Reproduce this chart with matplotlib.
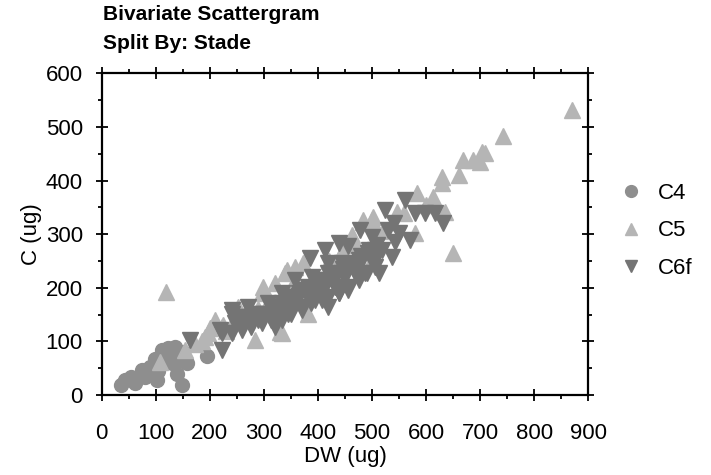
import matplotlib
matplotlib.use("Agg")
import matplotlib.pyplot as plt
from matplotlib.ticker import MultipleLocator

plt.rcParams["font.family"] = ["Liberation Sans", "DejaVu Sans"]

# values (DW, C in ug)
c4_dw = [36, 43, 55, 62, 74, 80, 86, 102, 99, 111, 123, 136, 139, 149, 157, 145, 130, 194, 118, 90, 105, 128, 150]
c4_c  = [19, 28, 34, 23, 47, 34, 40, 28, 68, 84, 87, 90, 40, 19, 59, 65, 59, 72, 75, 52, 45, 70, 80]

c5_dw = [869, 743, 703, 709, 700, 687, 669, 660, 629, 629, 613, 583, 635, 580, 546, 650, 499, 484,
         462, 444, 358, 339, 321, 296, 253, 222, 197, 191, 173, 154, 108, 119, 284, 333, 382, 499,
         265, 310, 350, 400, 420, 470, 520, 560, 245, 230, 290, 375, 440, 600,
         342, 298, 373, 483, 502, 330, 185, 200, 210, 225]
c5_c  = [532, 483, 454, 451, 435, 438, 438, 410, 407, 395, 370, 376, 342, 302, 342, 264, 326, 323,
         298, 267, 239, 227, 208, 190, 165, 127, 115, 109, 96, 84, 62, 193, 103, 115, 152, 252,
         150, 175, 200, 215, 250, 280, 305, 340, 140, 120, 160, 195, 260, 355,
         233, 201, 246, 326, 332, 118, 100, 125, 140, 130]

c6_dw = [561, 524, 580, 598, 617, 632, 570, 536, 512, 478, 499, 530, 549, 438, 413, 385, 419, 456,
         475, 490, 456, 419, 382, 358, 333, 308, 271, 241, 222, 222, 163, 241, 278, 321, 345, 370,
         395, 432, 469, 505, 518, 543, 296, 358, 389, 419, 444, 333, 382, 407, 438, 450, 370, 327,
         278, 300, 315, 340, 352, 365, 378, 392, 405, 412, 425, 447, 462, 480, 495, 510, 260, 255,
         290, 350, 400, 430, 465, 500, 540,
         247, 265, 284, 302, 314, 333, 351, 364, 376, 395, 407, 419, 432, 444, 456, 469, 481, 493, 506,
         259, 277, 296, 314, 333, 351, 370, 388, 407, 419, 438, 456, 475, 487, 506, 241, 219]
c6_c  = [364, 345, 339, 339, 339, 320, 289, 258, 227, 308, 295, 308, 302, 283, 270, 255, 246, 277,
         252, 227, 196, 165, 190, 215, 190, 171, 165, 152, 115, 84, 103, 115, 134, 127, 152, 165,
         177, 202, 227, 252, 270, 286, 152, 183, 221, 227, 246, 158, 202, 190, 190, 221, 196, 165,
         146, 150, 160, 170, 175, 185, 192, 200, 210, 215, 225, 235, 245, 260, 270, 280, 130, 145,
         140, 165, 200, 215, 240, 265, 320,
         134, 146, 152, 152, 165, 171, 177, 190, 196, 196, 208, 215, 221, 227, 239, 246, 252, 264, 271,
         121, 127, 134, 140, 140, 152, 159, 171, 177, 183, 190, 202, 215, 227, 239, 159, 121]

fig = plt.figure(figsize=(7.11, 4.75), dpi=100)
ax = fig.add_axes([0.143, 0.1684, 0.6845, 0.6773])

ax.plot(c4_dw, c4_c, "o", ms=10, color="#8e8e8e", mec="#8e8e8e", label="C4", ls="none")
ax.plot(c5_dw, c5_c, "^", ms=11, color="#b5b5b5", mec="#b5b5b5", label="C5", ls="none")
ax.plot(c6_dw, c6_c, "v", ms=11, color="#747474", mec="#747474", label="C6f", ls="none")

ax.set_xlim(0, 900); ax.set_ylim(0, 600)
ax.xaxis.set_major_locator(MultipleLocator(100)); ax.xaxis.set_minor_locator(MultipleLocator(50))
ax.yaxis.set_major_locator(MultipleLocator(100)); ax.yaxis.set_minor_locator(MultipleLocator(50))
ax.tick_params(which="major", direction="inout", length=9, width=1.3, top=True, right=True,
               labelsize=16, colors="black")
ax.tick_params(which="minor", direction="out", length=3, width=1.3, top=True, right=True)
ax.tick_params(axis="x", which="major", pad=16)
ax.tick_params(axis="y", which="major", pad=9)
for s in ax.spines.values():
    s.set_linewidth(1.6)

ax.set_xlabel("DW (ug)", fontsize=16, labelpad=1)
ax.set_ylabel("C (ug)", fontsize=16, labelpad=3)

fig.text(0.145, 0.99, "Bivariate Scattergram\nSplit By: Stade", fontsize=15, fontweight="bold",
         ha="left", va="top", linespacing=1.7)

leg = ax.legend(loc="center left", bbox_to_anchor=(1.02, 0.51), frameon=False, fontsize=16,
                markerscale=0.85, handletextpad=0.6, labelspacing=0.75, handlelength=1.2)

fig.savefig("out.png", dpi=100)
